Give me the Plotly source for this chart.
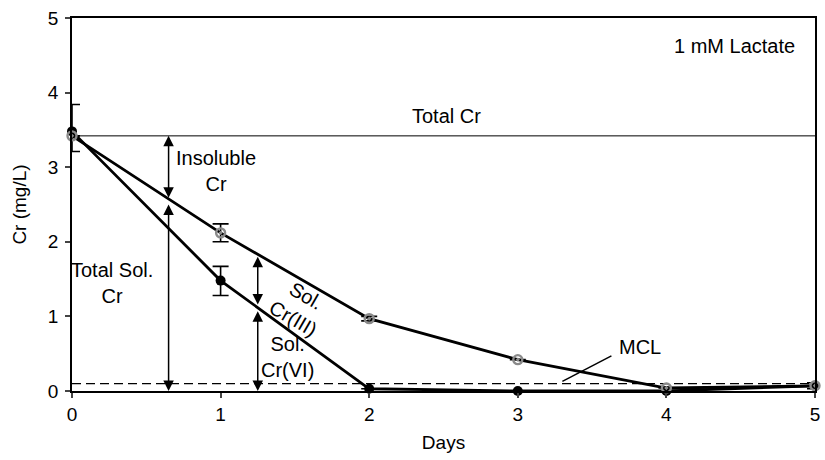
import plotly.graph_objects as go

days = [0, 1, 2, 3, 4, 5]
total_cr = [3.42, 2.12, 0.97, 0.42, 0.04, 0.07]
total_cr_err = [0.0, 0.12, 0.03, 0.0, 0.0, 0.04]
cr6 = [3.48, 1.48, 0.03, 0.0, 0.0, 0.07]
cr6_err_plus = [0.36, 0.19, 0.0, 0.0, 0.0, 0.0]
cr6_err_minus = [0.27, 0.2, 0.0, 0.0, 0.0, 0.0]
total_cr_level = 3.42
mcl_level = 0.1
x_ticks = [0, 1, 2, 3, 4, 5]
y_ticks = [0, 1, 2, 3, 4, 5]

FONT = "Liberation Sans, Arial, sans-serif"

fig = go.Figure()

# Total Cr reference line
fig.add_trace(go.Scatter(x=[0, 5], y=[total_cr_level, total_cr_level], mode="lines",
                         line=dict(color="black", width=1), hoverinfo="skip"))
# MCL dashed line
fig.add_trace(go.Scatter(x=[0, 5], y=[mcl_level, mcl_level], mode="lines",
                         line=dict(color="black", width=1.3, dash="9px,5px"), hoverinfo="skip"))

# Cr(VI)
fig.add_trace(go.Scatter(x=days, y=cr6, mode="lines+markers",
                         line=dict(color="black", width=2.8),
                         marker=dict(symbol="circle", size=10, color="black"),
                         error_y=dict(type="data", array=cr6_err_plus, arrayminus=cr6_err_minus,
                                      color="black", thickness=1.6, width=8),
                         cliponaxis=False))
# Total soluble Cr
fig.add_trace(go.Scatter(x=days, y=total_cr, mode="lines+markers",
                         line=dict(color="black", width=2.8),
                         marker=dict(symbol="circle-dot", size=9, color="rgba(0,0,0,0)",
                                     line=dict(color="#8a8a8a", width=2.4)),
                         error_y=dict(type="data", array=total_cr_err,
                                      color="black", thickness=1.6, width=8),
                         cliponaxis=False))

def darrow(x, y0, y1):
    fig.add_annotation(x=x, y=y1, ax=x, ay=y0, xref="x", yref="y", axref="x", ayref="y",
                       text="", showarrow=True, arrowhead=2, arrowside="end+start",
                       arrowsize=1.4, arrowwidth=1.5, arrowcolor="black", standoff=0, startstandoff=0)

darrow(0.65, 2.57, 3.42)
darrow(0.65, 2.52, 0.0)
darrow(1.25, 1.14, 1.80)
darrow(1.25, 1.09, 0.0)

# MCL pointer
fig.add_shape(type="line", x0=3.30, y0=0.13, x1=3.63, y1=0.47, xref="x", yref="y",
              line=dict(color="black", width=1.5))

def label(x, y, text, angle=0):
    fig.add_annotation(x=x, y=y, xref="x", yref="y", text=text, showarrow=False,
                       textangle=angle, font=dict(family=FONT, size=20, color="black"))

label(2.52, 3.68, "Total Cr")
label(4.46, 4.62, "1 mM Lactate")
label(0.97, 2.95, "Insoluble<br>Cr")
label(0.27, 1.45, "Total Sol.<br>Cr")
label(1.53, 1.12, "Sol.<br>Cr(III)", 30)
label(1.45, 0.46, "Sol.<br>Cr(VI)")
label(3.82, 0.59, "MCL")

fig.update_layout(
    width=825, height=460,
    margin=dict(l=72, r=10, t=18, b=69),
    plot_bgcolor="white", paper_bgcolor="white",
    showlegend=False,
    font=dict(family=FONT, size=19, color="black"),
    xaxis=dict(range=[0, 5], tickvals=x_ticks, ticks="outside", ticklen=5, tickwidth=1.5,
               showline=True, linecolor="black", linewidth=1.5, mirror=True,
               showgrid=False, zeroline=False, automargin=False,
               title=dict(text="Days", font=dict(size=19), standoff=12),
               tickfont=dict(size=19)),
    yaxis=dict(range=[0, 5], tickvals=y_ticks, ticks="outside", ticklen=5, tickwidth=1.5,
               showline=True, linecolor="black", linewidth=1.5, mirror=True,
               showgrid=False, zeroline=False, ticklabelstandoff=3, automargin=False,
               title=dict(text="Cr (mg/L)", font=dict(size=19), standoff=16),
               tickfont=dict(size=19)),
)

fig.write_html("out.html", config={"displayModeBar": False},
               post_script="document.body.style.margin='0';document.body.style.overflow='hidden';")
